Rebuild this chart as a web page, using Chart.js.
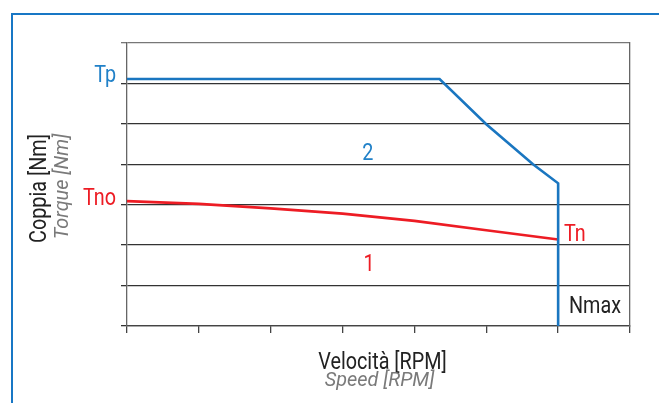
<!DOCTYPE html>
<html>
<head>
<meta charset="utf-8">
<script src="https://cdn.jsdelivr.net/npm/chart.js@4.4.1/dist/chart.umd.min.js"></script>
<style>
  html, body { margin: 0; padding: 0; background: #ffffff; }
  body { width: 659px; height: 403px; overflow: hidden; position: relative; }
  #frame { position: absolute; left: 11px; top: 13px; width: 700px; height: 500px;
           border-top: 2px solid #1877c5; border-left: 2px solid #1877c5; box-sizing: border-box; }
  #wrap { position: absolute; left: 0; top: 0; width: 659px; height: 403px; }
</style>
</head>
<body>
<div id="frame"></div>
<div id="wrap"><canvas id="c" width="659" height="403"></canvas></div>
<script>
// ---- data ----
const speedPeak   = [0, 4.35, 5, 5.65, 6, 6];          // x positions, curve 2 (Tp)
const torquePeak  = [6.11, 6.11, 4.99, 4.0, 3.53, 0];  // y values, curve 2
const speedCont   = [0, 1, 2, 3, 4, 5, 6];              // x positions, curve 1 (Tn)
const torqueCont  = [3.09, 3.02, 2.91, 2.78, 2.60, 2.37, 2.14];
const axisMin = 0, axisMax = 7;

const BLUE = '#1a76c0', BLUE_TXT = '#2181c8', RED = '#ed1c24', DARK = '#222222', GRAY = '#7a7a7a';
const FONT = 'Roboto, "Liberation Sans", sans-serif';
const SX = 0.86; // horizontal condensing to mimic the narrow typeface
const FS = 23;

function drawText(ctx, text, x, y, o) {
  ctx.save();
  ctx.translate(x, y);
  if (o.rotate) ctx.rotate(o.rotate);
  ctx.scale(o.sx || SX, 1);
  ctx.font = (o.italic ? 'italic ' : '') + (o.size || FS) + 'px ' + FONT;
  ctx.fillStyle = o.color;
  ctx.textAlign = o.align || 'left';
  ctx.textBaseline = 'alphabetic';
  ctx.fillText(text, 0, 0);
  ctx.restore();
}

const labelsPlugin = {
  id: 'labels',
  afterDraw(chart) {
    const ctx = chart.ctx, xs = chart.scales.x, ys = chart.scales.y, a = chart.chartArea;
    // value labels on the axis side
    drawText(ctx, 'Tp', a.left - 11, ys.getPixelForValue(torquePeak[0]) + 3, {color: BLUE_TXT, align: 'right'});
    drawText(ctx, 'Tno', a.left - 11, ys.getPixelForValue(torqueCont[0]) + 4, {color: RED, align: 'right'});
    // region numbers
    drawText(ctx, '2', xs.getPixelForValue(3.35), ys.getPixelForValue(4.11), {color: BLUE_TXT, align: 'center'});
    drawText(ctx, '1', xs.getPixelForValue(3.37), ys.getPixelForValue(1.36), {color: RED, align: 'center'});
    // end labels
    drawText(ctx, 'Tn', xs.getPixelForValue(6.08), ys.getPixelForValue(2.10), {color: RED});
    drawText(ctx, 'Nmax', xs.getPixelForValue(6.15), ys.getPixelForValue(0.32), {color: DARK});
    // axis titles
    const cx = (a.left + a.right) / 2 + 4;
    const it = {color: GRAY, align: 'center', italic: true, size: 20.5, sx: 0.97};
    drawText(ctx, 'Velocità [RPM]', cx, a.bottom + 43, {color: DARK, align: 'center'});
    drawText(ctx, 'Speed [RPM]', cx - 3, a.bottom + 60, it);
    const cy = (a.top + a.bottom) / 2;
    drawText(ctx, 'Coppia [Nm]', 46, cy + 4, {color: DARK, align: 'center', rotate: -Math.PI / 2});
    drawText(ctx, 'Torque [Nm]', 68, cy + 2, Object.assign({}, it, {rotate: -Math.PI / 2}));
  }
};

new Chart(document.getElementById('c'), {
  type: 'line',
  data: {
    datasets: [
      { label: '2', data: speedPeak.map((x, i) => ({x, y: torquePeak[i]})),
        borderColor: BLUE, borderWidth: 2.6, pointRadius: 0, tension: 0, fill: false },
      { label: '1', data: speedCont.map((x, i) => ({x, y: torqueCont[i]})),
        borderColor: RED, borderWidth: 2.6, pointRadius: 0, tension: 0, fill: false }
    ]
  },
  options: {
    responsive: false,
    animation: false,
    devicePixelRatio: 1,
    layout: { padding: { top: 43, right: 29, left: 0, bottom: 0 } },
    plugins: { legend: { display: false }, tooltip: { enabled: false } },
    scales: {
      x: {
        type: 'linear', min: axisMin, max: axisMax,
        ticks: { display: false, stepSize: 1 },
        grid: { drawOnChartArea: false, drawTicks: true, tickLength: 7, color: '#444', lineWidth: 1.3 },
        border: { display: true, color: '#444', width: 1.3 },
        afterFit: s => { s.height = 77; }
      },
      y: {
        type: 'linear', min: axisMin, max: axisMax,
        ticks: { display: false, stepSize: 1 },
        grid: { drawTicks: true, tickLength: 6, lineWidth: 1.3,
                color: c => (c.tick && c.tick.value === axisMax) ? '#777' : '#333' },
        border: { display: true, color: '#666', width: 1.3 },
        afterFit: s => { s.width = 127; }
      },
      y2: {
        type: 'linear', position: 'right', min: axisMin, max: axisMax,
        ticks: { display: false },
        grid: { display: false, drawTicks: false },
        border: { display: true, color: '#666', width: 1.3 },
        afterFit: s => { s.width = 0; }
      }
    }
  },
  plugins: [labelsPlugin]
});
</script>
</body>
</html>
